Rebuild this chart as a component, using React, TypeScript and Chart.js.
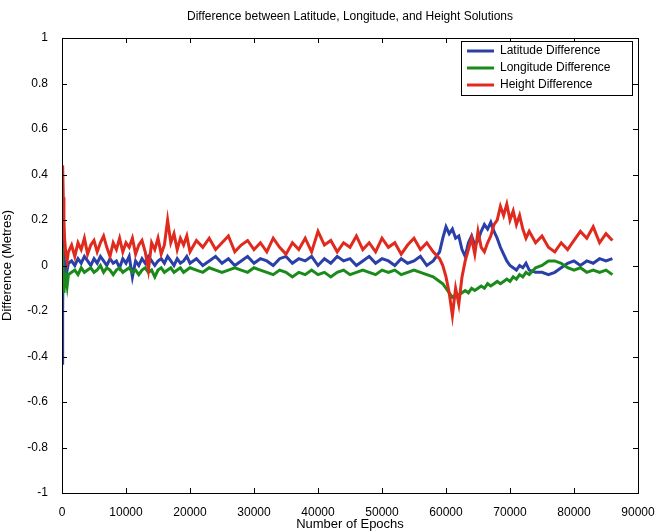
import React, { useEffect, useRef } from "react";
import { Chart, registerables } from "chart.js";
Chart.register(...registerables);

const epochs = [0, 100, 200, 300, 400, 600, 800, 1000, 1500, 2000, 2500, 3000, 3500, 4000, 4500, 5000, 5500, 6000, 6500, 7000, 7500, 8000, 8500, 9000, 9500, 10000, 10500, 11000, 11500, 12000, 12500, 13000, 13500, 14000, 14500, 15000, 15500, 16000, 16500, 17000, 17500, 18000, 18500, 19000, 19500, 20000, 21000, 22000, 23000, 24000, 25000, 26000, 27000, 28000, 29000, 30000, 31000, 32000, 33000, 34000, 35000, 36000, 37000, 38000, 39000, 40000, 41000, 42000, 43000, 44000, 45000, 46000, 47000, 48000, 49000, 50000, 51000, 52000, 53000, 54000, 55000, 56000, 57000, 58000, 59000, 59500, 60000, 60500, 61000, 61500, 62000, 62500, 63000, 63500, 64000, 64500, 65000, 65500, 66000, 66500, 67000, 67500, 68000, 68500, 69000, 69500, 70000, 70500, 71000, 71500, 72000, 72500, 73000, 74000, 75000, 76000, 77000, 78000, 79000, 80000, 81000, 82000, 83000, 84000, 85000, 86000];

const latitudeDiff = [-0.43, -0.2, 0.12, 0.02, -0.05, 0.0, -0.02, 0.01, 0.02, 0.0, 0.03, 0.01, 0.04, 0.02, 0.0, 0.03, 0.01, 0.04, 0.02, 0.0, 0.03, 0.01, 0.02, -0.01, 0.03, 0.01, 0.04, -0.05, 0.02, 0.0, 0.03, 0.01, 0.04, 0.02, 0.0, 0.02, 0.03, 0.01, 0.04, 0.02, 0.0, 0.03, 0.01, 0.02, 0.04, 0.01, 0.03, 0.0, 0.02, 0.04, 0.01, 0.03, 0.0, 0.02, 0.04, 0.01, 0.03, 0.02, 0.0, 0.03, 0.04, 0.01, 0.03, 0.02, 0.04, 0.0, 0.03, 0.01, 0.04, 0.02, 0.03, 0.0, 0.02, 0.04, 0.01, 0.03, 0.02, 0.0, 0.03, 0.01, 0.02, 0.04, 0.0, 0.02, 0.06, 0.12, 0.17, 0.14, 0.16, 0.12, 0.13, 0.07, 0.04, 0.1, 0.13, 0.09, 0.11, 0.15, 0.18, 0.16, 0.19, 0.15, 0.12, 0.08, 0.05, 0.02, 0.0, -0.01, -0.02, 0.0, -0.01, 0.01, -0.02, -0.03, -0.03, -0.04, -0.03, -0.01, 0.01, 0.02, 0.0, 0.02, 0.01, 0.03, 0.02, 0.03];

const longitudeDiff = [0.0, 0.08, -0.05, -0.12, -0.08, -0.05, -0.09, -0.04, -0.03, -0.02, -0.04, -0.01, -0.03, -0.02, -0.01, -0.03, -0.02, 0.0, -0.03, -0.01, -0.02, -0.04, -0.02, -0.01, -0.03, -0.02, -0.01, -0.03, -0.02, -0.04, -0.02, -0.01, -0.03, -0.02, -0.05, -0.02, -0.01, -0.03, -0.02, -0.01, -0.03, -0.02, -0.01, -0.03, -0.02, -0.01, -0.02, -0.03, -0.01, -0.02, -0.03, -0.02, -0.01, -0.02, -0.03, -0.01, -0.02, -0.03, -0.04, -0.02, -0.03, -0.05, -0.03, -0.04, -0.02, -0.04, -0.03, -0.05, -0.03, -0.02, -0.04, -0.03, -0.02, -0.03, -0.04, -0.02, -0.03, -0.02, -0.04, -0.03, -0.02, -0.03, -0.04, -0.05, -0.07, -0.08, -0.1, -0.12, -0.14, -0.13, -0.13, -0.12, -0.11, -0.12, -0.1, -0.11, -0.1, -0.09, -0.1, -0.08, -0.09, -0.08, -0.07, -0.08, -0.07, -0.06, -0.07, -0.05, -0.06, -0.04, -0.05, -0.03, -0.04, -0.01, 0.0, 0.02, 0.02, 0.01, -0.01, -0.02, -0.01, -0.03, -0.02, -0.03, -0.02, -0.04];

const heightDiff = [0.3, 0.44, 0.3, 0.2, 0.12, 0.05, 0.02, 0.06, 0.09, 0.04, 0.1, 0.07, 0.12, 0.05, 0.09, 0.11, 0.06, 0.1, 0.13, 0.08, 0.04, 0.1, 0.07, 0.12, 0.06, 0.1, 0.08, 0.12, 0.05, 0.09, 0.11, 0.06, -0.02, 0.1, 0.07, 0.12, 0.05, 0.09, 0.2, 0.1, 0.14, 0.07, 0.12, 0.09, 0.13, 0.06, 0.11, 0.08, 0.12, 0.07, 0.1, 0.13, 0.06, 0.09, 0.11, 0.07, 0.1, 0.06, 0.12, 0.08, 0.05, 0.1, 0.07, 0.12, 0.06, 0.15, 0.09, 0.11, 0.06, 0.1, 0.08, 0.13, 0.07, 0.1, 0.06, 0.12, 0.08, 0.1, 0.05, 0.09, 0.12, 0.07, 0.1, 0.06, 0.03, 0.0, -0.05, -0.12, -0.22, -0.1, -0.17, -0.05, 0.02, 0.07, 0.12, 0.05, 0.15, 0.08, 0.06, 0.1, 0.13, 0.18, 0.2, 0.26, 0.22, 0.27, 0.2, 0.24, 0.18, 0.22, 0.16, 0.12, 0.15, 0.1, 0.13, 0.08, 0.06, 0.1, 0.07, 0.11, 0.15, 0.12, 0.17, 0.1, 0.14, 0.11];

const xTicks = [0, 10000, 20000, 30000, 40000, 50000, 60000, 70000, 80000, 90000];
const yTicks = [-1, -0.8, -0.6, -0.4, -0.2, 0, 0.2, 0.4, 0.6, 0.8, 1];
const seriesNames = ["Latitude Difference", "Longitude Difference", "Height Difference"];
const seriesColors = ["#2b3fa8", "#1a8a1a", "#e02a1e"];
const FONT = "Liberation Sans, Arial, sans-serif";

export default function App() {
  const ref = useRef<HTMLCanvasElement>(null);
  useEffect(() => {
    const frame = {
      id: "frame",
      afterDraw(c: any) {
        const { ctx, chartArea: a, scales } = c;
        ctx.save();
        ctx.strokeStyle = "#000";
        ctx.lineWidth = 1;
        ctx.strokeRect(a.left + 0.5, a.top + 0.5, a.right - a.left, a.bottom - a.top);
        ctx.beginPath();
        xTicks.forEach((t) => {
          const x = Math.round(scales.x.getPixelForValue(t)) + 0.5;
          ctx.moveTo(x, a.bottom); ctx.lineTo(x, a.bottom - 5);
          ctx.moveTo(x, a.top); ctx.lineTo(x, a.top + 5);
        });
        yTicks.forEach((t) => {
          const y = Math.round(scales.y.getPixelForValue(t)) + 0.5;
          ctx.moveTo(a.left, y); ctx.lineTo(a.left + 5, y);
          ctx.moveTo(a.right, y); ctx.lineTo(a.right - 5, y);
        });
        ctx.stroke();
        // title
        ctx.fillStyle = "#000";
        ctx.font = `12px ${FONT}`;
        ctx.textAlign = "center";
        ctx.textBaseline = "middle";
        ctx.fillText("Difference between Latitude, Longitude, and Height Solutions", (a.left + a.right) / 2, 17);
        // legend
        const lx = 461, ly = 41, lw = 171, lh = 54;
        ctx.fillStyle = "#fff";
        ctx.fillRect(lx, ly, lw, lh);
        ctx.strokeRect(lx + 0.5, ly + 0.5, lw, lh);
        ctx.textAlign = "left";
        seriesNames.forEach((n, i) => {
          const y = ly + 10 + i * 17;
          ctx.strokeStyle = seriesColors[i];
          ctx.lineWidth = 3;
          ctx.beginPath(); ctx.moveTo(lx + 6, y); ctx.lineTo(lx + 33, y); ctx.stroke();
          ctx.fillStyle = "#000";
          ctx.fillText(n, lx + 39, y);
        });
        ctx.restore();
      },
    };
    const mk = (i: number, vals: number[]) => ({
      label: seriesNames[i],
      data: epochs.map((x, k) => ({ x, y: vals[k] })),
      borderColor: seriesColors[i],
      borderWidth: 3,
      pointRadius: 0,
      tension: 0,
    });
    const chart = new Chart(ref.current!, {
      type: "line",
      data: { datasets: [mk(2, heightDiff), mk(1, longitudeDiff), mk(0, latitudeDiff)] },
      options: {
        animation: false,
        responsive: false,
        layout: { padding: { left: 0, top: 38, right: 25, bottom: 0 } },
        plugins: { legend: { display: false }, tooltip: { enabled: false } },
        scales: {
          x: {
            type: "linear", min: 0, max: 90000,
            afterBuildTicks: (s: any) => { s.ticks = xTicks.map((v) => ({ value: v })); },
            afterFit: (s: any) => { s.height = 39; },
            grid: { display: false },
            border: { display: false },
            ticks: { color: "#000", font: { family: FONT, size: 12 }, padding: 4, maxRotation: 0, callback: (v: any) => String(v) },
            title: { display: true, text: "Number of Epochs", color: "#000", font: { family: FONT, size: 13 }, padding: 0 },
          },
          y: {
            type: "linear", min: -1, max: 1,
            afterBuildTicks: (s: any) => { s.ticks = yTicks.map((v) => ({ value: v })); },
            afterFit: (s: any) => { s.width = 62; },
            grid: { display: false },
            border: { display: false },
            ticks: { color: "#000", font: { family: FONT, size: 12 }, padding: 6, callback: (v: any) => String(Math.round(v * 10) / 10) },
            title: { display: true, text: "Difference (Metres)", color: "#000", font: { family: FONT, size: 13 }, padding: 0 },
          },
        },
      },
      plugins: [frame],
    } as any);
    return () => chart.destroy();
  }, []);
  return (
    <div style={{ position: "fixed", left: 0, top: 0, background: "#fff" }}>
      <canvas ref={ref} width={663} height={532} style={{ display: "block" }} />
    </div>
  );
}
